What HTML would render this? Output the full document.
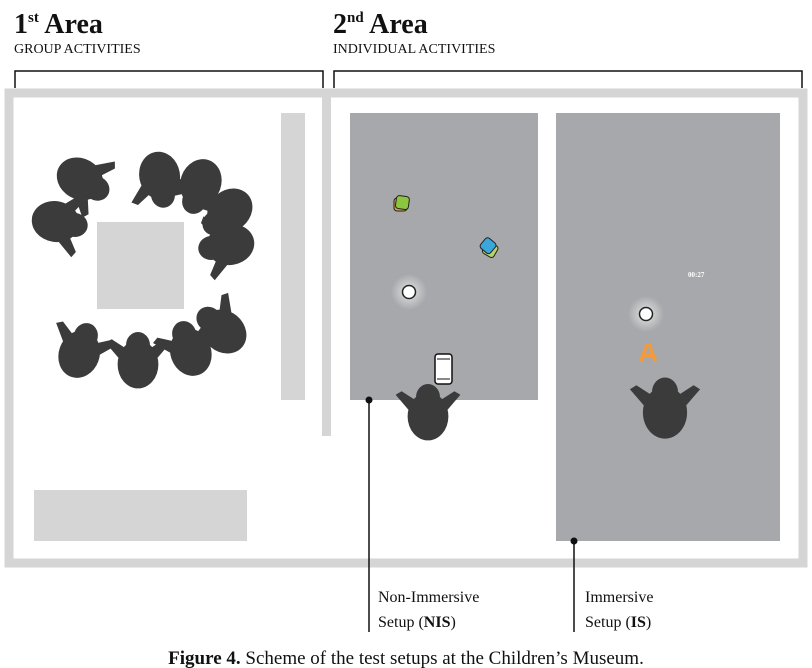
<!DOCTYPE html>
<html><head><meta charset="utf-8"><style>
body{margin:0;background:#fff;width:812px;height:668px;overflow:hidden}
svg{display:block}
text{font-family:"Liberation Serif",serif;fill:#111}
</style></head><body>
<svg width="812" height="668">
<defs>
<radialGradient id="glow"><stop offset="0" stop-color="#fff" stop-opacity="0.7"/><stop offset="1" stop-color="#fff" stop-opacity="0"/></radialGradient>
<g id="person">
<ellipse cx="0" cy="2" rx="17" ry="20" fill="#3b3b3b"/>
<ellipse cx="0" cy="-14" rx="10" ry="11" fill="#3b3b3b"/>
<path d="M-15,-2 L-27,-16 L-22,-19 L-8,-10 Z M15,-2 L27,-16 L22,-19 L8,-10 Z" fill="#3b3b3b"/>
</g>
</defs>
<g>
<text x="14" y="33" font-size="28" font-weight="bold">1<tspan font-size="15" dy="-11">st</tspan><tspan dy="11"> Area</tspan></text>
<text x="14" y="53" font-size="14">GROUP ACTIVITIES</text>
</g>
<g>
<text x="333" y="33" font-size="28" font-weight="bold">2<tspan font-size="15" dy="-11">nd</tspan><tspan dy="11"> Area</tspan></text>
<text x="333" y="53" font-size="14">INDIVIDUAL ACTIVITIES</text>
</g>
<path d="M15,88 V71 H323 V88" fill="none" stroke="#111" stroke-width="1.5"/>
<path d="M334,88 V71 H802 V88" fill="none" stroke="#111" stroke-width="1.5"/>
<rect x="9" y="93" width="794" height="470" fill="none" stroke="#d5d5d6" stroke-width="9"/>
<rect x="322" y="89" width="9" height="347" fill="#d5d5d6"/>
<rect x="281" y="113" width="24" height="287" fill="#d5d5d6"/>
<rect x="97" y="222" width="87" height="87" fill="#d5d5d6"/>
<rect x="34" y="490" width="213" height="51" fill="#d5d5d6"/>
<g>
<use href="#person" transform="translate(82,180) rotate(120) scale(1.2)"/>
<use href="#person" transform="translate(58,222) rotate(100) scale(1.2)"/>
<use href="#person" transform="translate(160,178) rotate(170) scale(1.2)"/>
<use href="#person" transform="translate(200,185) rotate(200) scale(1.2)"/>
<use href="#person" transform="translate(228,212) rotate(230) scale(1.2)"/>
<use href="#person" transform="translate(228,245) rotate(260) scale(1.2)"/>
<use href="#person" transform="translate(80,352) rotate(20) scale(1.2)"/>
<use href="#person" transform="translate(138,362) rotate(0) scale(1.2)"/>
<use href="#person" transform="translate(190,350) rotate(-20) scale(1.2)"/>
<use href="#person" transform="translate(222,330) rotate(-50) scale(1.2)"/>
</g>
<rect x="350" y="113" width="188" height="287" fill="#a7a8ab"/>
<rect x="556" y="113" width="224" height="428" fill="#a7a8ab"/>
<g><rect x="394" y="198" width="13" height="13" rx="3" fill="#d9a04a" stroke="#222"/><rect x="396" y="196" width="13" height="13" rx="3" fill="#8cc63f" stroke="#222" transform="rotate(8 402 202)"/></g>
<g><rect x="484" y="243" width="13" height="13" rx="3" fill="#b5d46b" stroke="#222" transform="rotate(30 490 249)"/><rect x="482" y="239" width="13" height="13" rx="3" fill="#3aa6dc" stroke="#222" transform="rotate(40 488 245)"/></g>
<circle cx="409" cy="292" r="18" fill="url(#glow)"/>
<circle cx="409" cy="292" r="6.5" fill="#fff" stroke="#222" stroke-width="1.5"/>
<g><rect x="435" y="354" width="17" height="30" rx="3" fill="#fff" stroke="#111" stroke-width="1.5"/><line x1="437" y1="359" x2="450" y2="359" stroke="#111"/><line x1="437" y1="379" x2="450" y2="379" stroke="#111"/></g>
<use href="#person" transform="translate(428,414) scale(1.2)"/>
<text x="688" y="277" font-size="7" font-family="Liberation Sans,sans-serif" font-weight="bold" style="fill:#fff">00:27</text>
<circle cx="646" cy="314" r="18" fill="url(#glow)"/>
<circle cx="646" cy="314" r="6.5" fill="#fff" stroke="#222" stroke-width="1.5"/>
<text x="638" y="362" style="fill:#f39a3c;font-size:28px;font-weight:bold;font-family:'Liberation Sans',sans-serif">A</text>
<use href="#person" transform="translate(665,410) scale(1.3)"/>
<g><circle cx="369" cy="400" r="3.5" fill="#111"/><line x1="369" y1="400" x2="369" y2="632" stroke="#111" stroke-width="1.5"/></g>
<g><circle cx="574" cy="541" r="3.5" fill="#111"/><line x1="574" y1="541" x2="574" y2="632" stroke="#111" stroke-width="1.5"/></g>
<g><text x="378" y="602" font-size="16">Non-Immersive</text><text x="378" y="627" font-size="16">Setup (<tspan font-weight="bold">NIS</tspan>)</text></g>
<g><text x="585" y="602" font-size="16">Immersive</text><text x="585" y="627" font-size="16">Setup (<tspan font-weight="bold">IS</tspan>)</text></g>
<text x="406" y="664" font-size="19" text-anchor="middle"><tspan font-weight="bold">Figure 4.</tspan> Scheme of the test setups at the Children’s Museum.</text>
</svg>
</body></html>
